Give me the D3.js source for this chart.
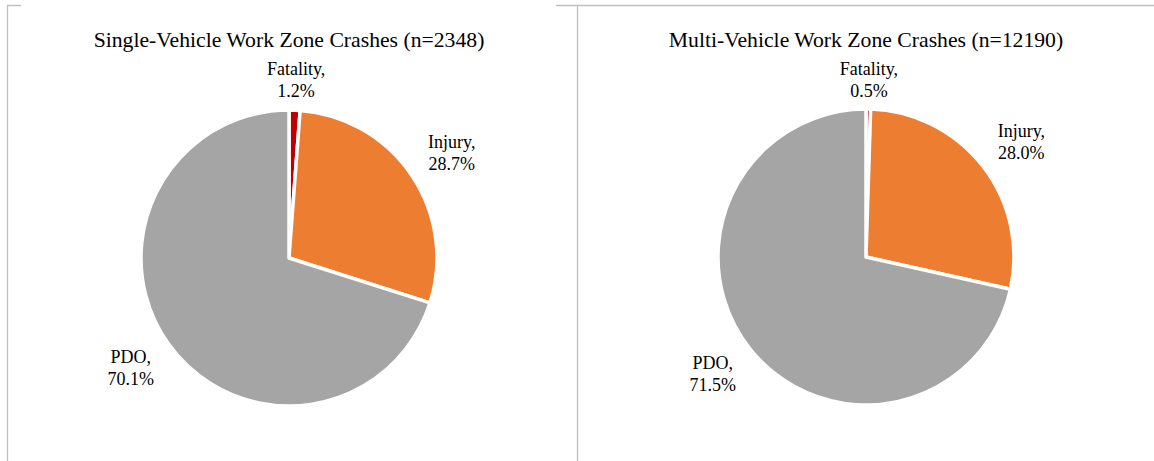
<!DOCTYPE html>
<html>
<head>
<meta charset="utf-8">
<script src="https://cdn.jsdelivr.net/npm/d3@7"></script>
<style>
  body { margin: 0; background: #fff; }
  text { font-family: "Liberation Serif", "Times New Roman", serif; fill: #000; }
</style>
</head>
<body>
<div class="pies"></div>
<script>
const width = 1154, height = 461;

// crash severity shares (percent)
const categories = ["Fatality", "Injury", "PDO"];
const singleValues = [1.2, 28.7, 70.1];
const multiValues = [0.5, 28.0, 71.5];
const titles = ["Single-Vehicle Work Zone Crashes (n=2348)", "Multi-Vehicle Work Zone Crashes (n=12190)"];
const colors = ["#C00000", "#ED7D31", "#A5A5A5"];

const svg = d3.select(".pies")
    .append("svg")
    .attr("width", width)
    .attr("height", height);

// frame lines from the document cut-out
const frame = svg.append("g").attr("stroke", "#bfbfbf").attr("stroke-width", 1.3).attr("fill", "none");
frame.append("path").attr("d", "M7.5,461V5.5H21");
frame.append("path").attr("d", "M556,5.5H1154M577.5,5.5V461");

const color = d3.scaleOrdinal().domain(categories).range(colors);
const radius = 148;

const pie = d3.pie().sort(null).value(d => d.value);
const arc = d3.arc().innerRadius(0).outerRadius(radius);

const charts = [
    {title: titles[0], values: singleValues, cx: 289, cy: 258},
    {title: titles[1], values: multiValues, cx: 866, cy: 257}
];

charts.forEach(c => {
    const data = categories.map((k, i) => ({key: k, value: c.values[i]}));

    svg.append("text")
        .attr("x", c.cx)
        .attr("y", 47)
        .attr("text-anchor", "middle")
        .style("font-size", "21.7px")
        .text(c.title);

    const g = svg.append("g")
        .attr("transform", `translate(${c.cx},${c.cy})`);

    const arcs = pie(data);

    g.selectAll("path")
        .data(arcs)
        .join("path")
        .attr("d", arc)
        .attr("fill", d => color(d.data.key))
        .attr("stroke", "white")
        .attr("stroke-width", 3.5)
        .attr("stroke-linejoin", "round");

    // outside-end labels
    const labels = g.selectAll("text.lbl")
        .data(arcs)
        .join("text")
        .attr("class", "lbl")
        .attr("text-anchor", "middle")
        .style("font-size", "18px");

    labels.append("tspan").attr("class", "l1").attr("x", 0).text(d => d.data.key + ",");
    labels.append("tspan").attr("class", "l2").attr("x", 0).text(d => d.data.value.toFixed(1) + "%");

    labels.each(function(d) {
        const t = d3.select(this);
        const w = this.getBBox().width, h = 42, gap = 8;
        const a = (d.startAngle + d.endAngle) / 2;
        const ux = Math.sin(a), uy = -Math.cos(a);
        const dist = radius + gap + w / 2 * Math.abs(ux) + h / 2 * Math.abs(uy);
        const x = ux * dist + ux * 9, y = uy * dist;
        t.selectAll("tspan").attr("x", x);
        t.select(".l1").attr("y", y - 5);
        t.select(".l2").attr("y", y + 17);
    });
});
</script>
</body>
</html>
